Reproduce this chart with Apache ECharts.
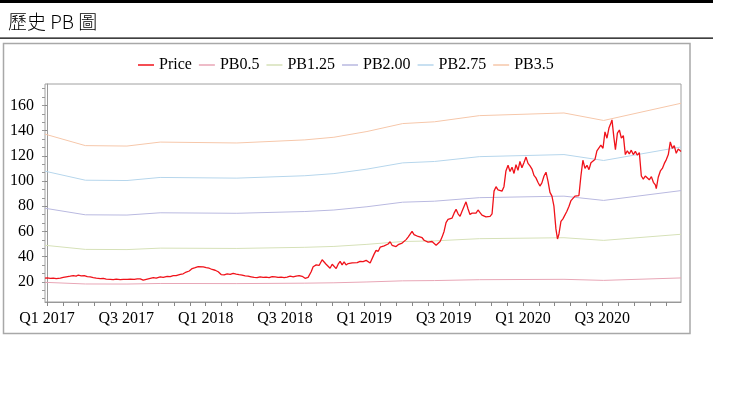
<!DOCTYPE html>
<html>
<head>
<meta charset="utf-8">
<script src="https://cdn.jsdelivr.net/npm/echarts@6/dist/echarts.min.js"></script>
<style>
html,body{margin:0;padding:0;background:#fff;}
#c{width:747px;height:397px;}
</style>
</head>
<body>
<div id="c"></div>
<script>
// ---- data (x in months since 2017-01-01) ----
var seriesNames = ['Price', 'PB0.5', 'PB1.25', 'PB2.00', 'PB2.75', 'PB3.5'];
var quarterLabels = ['Q1 2017', 'Q3 2017', 'Q1 2018', 'Q3 2018', 'Q1 2019', 'Q3 2019', 'Q1 2020', 'Q3 2020'];
var quarterMonths = [0, 6, 12, 18, 24, 30, 36, 42];
var yTickLabels = [20, 40, 60, 80, 100, 120, 140, 160];

var bandMonths = [-0.15, 2.9, 6.05, 8.56, 14.36, 19.5, 21.7, 24.2, 26.9, 29.3, 32.7, 39.1, 42.1, 47.95];
var pb05  = [19.6, 18.3, 18.25, 18.7, 18.6, 18.95, 19.25, 19.9, 20.8, 21.0, 21.7, 22.0, 21.15, 23.1];
var pb125 = [49.0, 45.75, 45.6, 46.75, 46.5, 47.4, 48.1, 49.75, 52.0, 52.5, 54.25, 55.0, 52.9, 57.75];
var pb200 = [78.4, 73.2, 73.0, 74.8, 74.4, 75.8, 77.0, 79.6, 83.2, 84.0, 86.8, 88.0, 84.6, 92.4];
var pb275 = [107.8, 100.65, 100.4, 102.85, 102.3, 104.2, 105.9, 109.45, 114.4, 115.5, 119.35, 121.0, 116.3, 127.05];
var pb350 = [137.2, 128.1, 127.75, 130.9, 130.2, 132.65, 134.75, 139.3, 145.6, 147.0, 151.9, 154.0, 148.05, 161.7];

var priceMonths = [
-0.15,0.02,0.25,0.48,0.70,1.01,1.23,1.46,1.76,1.99,2.21,2.37,2.59,2.82,3.05,3.27,3.50,3.73,4.03,4.26,
4.48,4.78,5.01,5.24,5.54,5.77,6.07,6.30,6.60,6.83,7.05,7.28,7.51,7.81,8.04,8.26,8.57,8.79,9.09,9.32,
9.55,9.77,10.08,10.30,10.53,10.76,10.98,11.21,11.44,11.59,11.82,12.04,12.27,12.49,12.72,12.95,13.17,13.40,13.63,13.86,
14.08,14.31,14.53,14.76,14.99,15.21,15.44,15.67,15.89,16.12,16.35,16.57,16.80,17.03,17.26,17.48,17.71,17.94,18.16,18.39,
18.62,18.84,19.07,19.30,19.52,19.75,19.98,20.13,20.36,20.58,20.81,20.96,21.11,21.26,21.41,21.57,21.72,21.87,22.02,22.17,
22.32,22.47,22.62,22.78,22.93,23.08,23.23,23.46,23.68,23.91,24.14,24.29,24.44,24.59,24.74,24.89,25.05,25.20,25.35,25.50,
25.65,25.80,25.95,26.10,26.25,26.40,26.56,26.71,26.86,27.01,27.16,27.31,27.46,27.61,27.76,27.91,28.07,28.22,28.37,28.52,
28.67,28.82,28.97,29.12,29.27,29.43,29.58,29.73,29.88,30.03,30.18,30.33,30.48,30.63,30.79,30.94,31.09,31.24,31.39,31.54,
31.69,31.84,31.99,32.15,32.30,32.45,32.60,32.75,32.90,33.05,33.20,33.35,33.51,33.66,33.81,33.96,34.11,34.26,34.41,34.56,
34.71,34.87,35.02,35.17,35.32,35.47,35.62,35.77,35.92,36.07,36.23,36.38,36.53,36.68,36.83,36.98,37.13,37.28,37.43,37.59,
37.74,37.89,38.04,38.19,38.34,38.49,38.61,38.72,38.87,39.02,39.17,39.32,39.48,39.63,39.78,39.93,40.08,40.23,40.38,40.53,
40.69,40.84,40.99,41.14,41.29,41.44,41.59,41.74,41.89,42.05,42.20,42.35,42.50,42.65,42.73,42.88,42.99,43.14,43.29,43.44,
43.59,43.74,43.89,44.04,44.19,44.34,44.50,44.65,44.80,44.95,45.10,45.25,45.40,45.55,45.71,45.86,46.01,46.08,46.23,46.39,
46.54,46.69,46.84,46.99,47.14,47.29,47.44,47.59,47.74,47.95
];
var priceValues = [
23.0,23.2,22.8,23.0,22.6,22.9,23.5,24.0,24.5,25.0,24.6,25.4,24.8,25.0,24.2,24.0,23.4,23.0,22.6,22.8,
22.2,22.0,21.8,22.2,21.8,22.0,21.9,22.2,22.0,22.4,22.3,21.3,22.0,22.8,23.3,23.0,24.0,23.6,24.4,24.2,
25.0,25.0,26.0,26.4,27.8,28.6,30.5,31.2,32.0,32.6,31.8,31.2,30.8,29.8,29.2,28.0,25.8,25.6,26.4,26.0,
26.8,26.2,25.8,25.4,24.8,24.5,24.0,23.5,23.3,24.0,23.6,23.8,23.4,24.2,24.0,23.6,23.8,23.3,23.8,24.5,
24.0,24.6,25.0,24.4,22.8,23.5,28.0,32.0,33.5,33.0,37.5,36.0,34.0,33.6,30.8,34.0,35.5,30.5,34.0,36.2,
33.5,35.8,33.4,34.5,33.0,35.0,35.6,35.2,36.2,36.0,37.0,35.8,35.0,36.0,42.0,45.0,44.2,47.5,46.8,48.5,
47.5,50.0,51.8,49.0,48.5,48.0,49.5,49.2,50.8,52.0,53.5,55.5,57.0,60.0,57.5,58.5,56.0,56.0,55.0,53.0,
53.5,51.5,50.5,52.0,51.0,49.0,47.5,52.0,55.5,60.0,67.0,69.5,68.0,70.5,74.5,77.5,74.0,72.0,76.0,75.0,
83.5,78.0,73.5,74.5,73.0,74.5,77.0,75.0,73.0,72.0,71.5,72.5,72.0,74.0,92.0,95.5,93.0,93.5,92.0,95.5,
108.0,112.5,107.5,111.0,106.0,113.0,108.5,115.5,110.5,114.5,119.0,114.0,112.0,109.5,104.5,102.5,99.0,96.0,98.5,104.0,
107.0,100.0,91.0,88.0,80.0,62.0,54.0,58.0,68.0,70.0,71.5,76.0,80.0,84.5,84.0,88.0,89.5,88.5,104.0,116.5,
110.0,112.5,109.0,114.5,115.0,117.0,124.0,122.5,128.5,126.0,139.0,134.0,142.0,146.0,148.5,134.0,124.8,138.0,140.5,134.0,
136.0,121.0,124.0,121.5,124.5,121.0,123.5,120.5,122.5,104.0,101.5,104.0,103.0,101.0,103.5,99.0,97.0,94.0,103.0,108.0,
110.0,114.0,117.0,121.0,131.0,126.0,128.0,122.0,125.5,123.5
];

// ---- build ----
function pairs(xs, ys) { return xs.map(function (x, i) { return [x, ys[i]]; }); }
var colors = ['#f0121a', '#e8a6b6', '#d6e1b8', '#b9b9e0', '#b6d6ec', '#f6c7aa'];
var bandData = [pb05, pb125, pb200, pb275, pb350];

var xMinor = [];
for (var t = 0; t <= 47.9; t += 1.2) xMinor.push(+t.toFixed(2));
var yMinor = [];
for (var v = 20 / 3; v < 177; v += 20 / 3) yMinor.push(+v.toFixed(3));

var series = [];
series.push({
  name: seriesNames[0], type: 'line', data: pairs(priceMonths, priceValues),
  symbol: 'none', lineStyle: { width: 1.3, color: colors[0] }, itemStyle: { color: colors[0] }, z: 5
});
for (var i = 0; i < 5; i++) {
  series.push({
    name: seriesNames[i + 1], type: 'line', data: pairs(bandMonths, bandData[i]),
    symbol: 'none', lineStyle: { width: 1, color: colors[i + 1] }, itemStyle: { color: colors[i + 1] }, z: 2
  });
}

var serif = '"Liberation Serif", "Times New Roman", serif';
var chart = echarts.init(document.getElementById('c'), null, { renderer: 'canvas' });
chart.setOption({
  animation: false,
  title: {
    text: '歷史 PB 圖', left: 3, top: 7,
    textStyle: { fontFamily: '"Noto Sans CJK TC", sans-serif', fontSize: 19, fontWeight: 300, color: '#000' }
  },
  graphic: [
    { type: 'rect', shape: { x: 0, y: 0, width: 713, height: 3 }, style: { fill: '#000' } },
    { type: 'rect', shape: { x: 0, y: 37.5, width: 713, height: 1.2 }, style: { fill: '#000' } },
    { type: 'rect', shape: { x: 3.5, y: 43.5, width: 686.5, height: 290 }, style: { fill: 'none', stroke: '#a8a8a8', lineWidth: 1.5 }, z: -1 }
  ],
  legend: {
    left: 133, top: 52, itemWidth: 16, itemHeight: 1.5, itemGap: 7, icon: 'rect',
    textStyle: { fontFamily: serif, fontSize: 16, color: '#000' },
    data: seriesNames
  },
  grid: { left: 45, top: 84, width: 636, height: 218, show: true, borderColor: '#a0a0a0', borderWidth: 1 },
  xAxis: {
    type: 'value', min: -0.15, max: 47.95,
    axisLine: { show: true, lineStyle: { color: '#999' } },
    axisTick: { show: true, length: 4, lineStyle: { color: '#888' }, customValues: xMinor },
    axisLabel: {
      customValues: quarterMonths, margin: 9,
      fontFamily: serif, fontSize: 16, color: '#000',
      formatter: function (val) {
        var idx = quarterMonths.indexOf(Math.round(val));
        return idx >= 0 ? quarterLabels[idx] : '';
      }
    },
    splitLine: { show: false }
  },
  yAxis: [{
    type: 'value', min: 4, max: 177,
    axisLine: { show: true, lineStyle: { color: '#999' } },
    axisTick: { show: true, length: 5, lineStyle: { color: '#888' }, customValues: yTickLabels },
    axisLabel: { customValues: yTickLabels, margin: 11, fontFamily: serif, fontSize: 16, color: '#000' },
    splitLine: { show: false }
  }, {
    type: 'value', min: 4, max: 177, position: 'left',
    axisLine: { show: false },
    axisTick: { show: true, length: 3, lineStyle: { color: '#999' }, customValues: yMinor },
    axisLabel: { show: false },
    splitLine: { show: false }
  }],
  series: series
});
</script>
</body>
</html>
